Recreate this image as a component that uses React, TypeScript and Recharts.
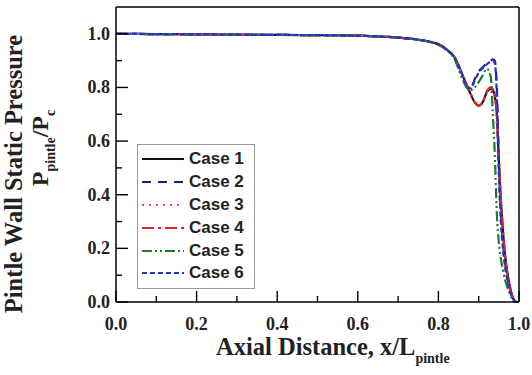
import { LineChart, Line, XAxis, YAxis, Legend, ReferenceLine } from 'recharts';

// axial position x/L_pintle
const xPos = [0, 0.1, 0.2, 0.3, 0.4, 0.5, 0.6, 0.65, 0.7, 0.75, 0.78, 0.8, 0.82, 0.84, 0.86, 0.87, 0.88, 0.89, 0.9, 0.91, 0.92, 0.93, 0.935, 0.94, 0.945, 0.95, 0.955, 0.96, 0.965, 0.97, 0.975, 0.98, 0.985, 0.99, 0.995, 1.0];

const case1 = [1.0, 0.999, 0.998, 0.997, 0.996, 0.995, 0.993, 0.99, 0.986, 0.978, 0.97, 0.961, 0.942, 0.912, 0.845, 0.81, 0.775, 0.745, 0.732, 0.745, 0.782, 0.795, 0.79, 0.768, 0.7, 0.53, 0.38, 0.27, 0.18, 0.12, 0.075, 0.04, 0.015, 0.003, 0.0, 0.0];
const case2 = [1.0, 0.999, 0.998, 0.997, 0.996, 0.995, 0.993, 0.99, 0.986, 0.978, 0.97, 0.961, 0.942, 0.912, 0.845, 0.805, 0.795, 0.83, 0.86, 0.875, 0.89, 0.9, 0.905, 0.9, 0.8, 0.52, 0.33, 0.22, 0.15, 0.1, 0.065, 0.035, 0.015, 0.003, 0.0, 0.0];
const case3 = [1.0, 0.999, 0.998, 0.997, 0.996, 0.995, 0.993, 0.99, 0.986, 0.978, 0.97, 0.961, 0.942, 0.912, 0.845, 0.81, 0.775, 0.745, 0.733, 0.746, 0.783, 0.797, 0.79, 0.76, 0.66, 0.48, 0.34, 0.24, 0.16, 0.1, 0.06, 0.03, 0.01, 0.0, 0.0, 0.0];
const case4 = [1.0, 0.999, 0.998, 0.997, 0.996, 0.995, 0.993, 0.99, 0.986, 0.978, 0.97, 0.961, 0.942, 0.912, 0.845, 0.81, 0.775, 0.745, 0.732, 0.745, 0.785, 0.8, 0.795, 0.77, 0.7, 0.53, 0.38, 0.27, 0.18, 0.12, 0.075, 0.04, 0.015, 0.003, 0.008, 0.02];
const case5 = [1.0, 0.999, 0.998, 0.997, 0.996, 0.995, 0.993, 0.99, 0.986, 0.978, 0.969, 0.959, 0.94, 0.905, 0.83, 0.8, 0.79, 0.8, 0.82, 0.845, 0.87, 0.84, 0.7, 0.55, 0.33, 0.22, 0.16, 0.12, 0.085, 0.06, 0.04, 0.02, 0.007, 0.0, 0.0, 0.0];
const case6 = [1.0, 0.999, 0.998, 0.997, 0.996, 0.995, 0.993, 0.99, 0.986, 0.978, 0.97, 0.961, 0.942, 0.912, 0.845, 0.805, 0.797, 0.825, 0.855, 0.872, 0.886, 0.897, 0.9, 0.89, 0.77, 0.48, 0.3, 0.2, 0.135, 0.09, 0.058, 0.03, 0.012, 0.002, 0.0, 0.0];

const xTicks = [0, 0.1, 0.2, 0.3, 0.4, 0.5, 0.6, 0.7, 0.8, 0.9, 1.0];
const yTicks = [0, 0.1, 0.2, 0.3, 0.4, 0.5, 0.6, 0.7, 0.8, 0.9, 1.0];

const cases = [
  { key: 'c1', name: 'Case 1', values: case1, color: '#111111', dash: undefined },
  { key: 'c2', name: 'Case 2', values: case2, color: '#1c1f8a', dash: '9 7' },
  { key: 'c3', name: 'Case 3', values: case3, color: '#d33fc4', dash: '2 5' },
  { key: 'c4', name: 'Case 4', values: case4, color: '#e3232a', dash: '12 4 3 4' },
  { key: 'c5', name: 'Case 5', values: case5, color: '#1f7a2a', dash: '10 3 2 3 2 3' },
  { key: 'c6', name: 'Case 6', values: case6, color: '#2233c8', dash: '5 3' },
];

const data = xPos.map((x, i) => {
  const row: any = { x };
  cases.forEach((c) => {
    row[c.key] = c.values[i];
  });
  return row;
});

const serif = '"Liberation Serif", "Times New Roman", serif';
const sans = '"Liberation Sans", Arial, sans-serif';

const isMajor = (v: number) => Math.round(v * 10) % 2 === 0;

// ticks point inward, labels only every 0.2
const XTick = (props: any) => {
  const x = Number(props.x);
  const y = Number(props.y);
  const major = isMajor(props.payload.value);
  return (
    <g>
      <path d={`M${x},${y}V${y - (major ? 11 : 6)}`} stroke="#000" strokeWidth={1.4} fill="none" />
      {major && (
        <text x={x} y={y + 28} textAnchor="middle" fontFamily={serif} fontWeight="bold" fontSize={18} fill="#222" stroke="none">
          {props.payload.value.toFixed(1)}
        </text>
      )}
    </g>
  );
};

const YTick = (props: any) => {
  const x = Number(props.x);
  const y = Number(props.y);
  const major = isMajor(props.payload.value);
  return (
    <g>
      <path d={`M${x},${y}H${x + (major ? 12 : 6)}`} stroke="#000" strokeWidth={1.4} fill="none" />
      {major && (
        <text x={x - 6} y={y + 6} textAnchor="end" fontFamily={serif} fontWeight="bold" fontSize={18} fill="#222" stroke="none">
          {props.payload.value.toFixed(1)}
        </text>
      )}
    </g>
  );
};

const renderLegend = () => (
  <div style={{ border: '1px solid #999', background: '#fff', padding: '3px 0 3px 3px', width: 113 }}>
    {cases.map((c) => (
      <div key={c.key} style={{ display: 'flex', alignItems: 'center', height: 22.8 }}>
        <svg width={44} height={10}>
          <line x1={1} x2={43} y1={5} y2={5} stroke={c.color} strokeWidth={2.2} strokeDasharray={c.dash} />
        </svg>
        <span style={{ fontFamily: sans, fontWeight: 'bold', fontSize: 17, color: '#222', marginLeft: 4 }}>{c.name}</span>
      </div>
    ))}
  </div>
);

const App = () => {
  return (
    <div style={{ position: 'absolute', left: 0, top: 0 }}>
      <LineChart width={532} height={375} data={data} margin={{ top: 7, right: 13, left: 0, bottom: 0 }}>
        <XAxis
          dataKey="x"
          type="number"
          domain={[0, 1]}
          ticks={xTicks}
          tickLine={false}
          tickSize={0}
          tickMargin={0}
          tick={<XTick />}
          height={73}
          axisLine={{ stroke: '#000', strokeWidth: 1.5 }}
          label={{
            content: () => (
              <text x={216} y={355} fontFamily={serif} fontWeight="bold" fontSize={24.5} fill="#222">
                Axial Distance, x/L
                <tspan fontSize={14} dy={8}>pintle</tspan>
              </text>
            ),
          }}
        />
        <YAxis
          type="number"
          domain={[0, 1.1]}
          ticks={yTicks}
          tickLine={false}
          tickSize={0}
          tickMargin={0}
          tick={<YTick />}
          width={116}
          axisLine={{ stroke: '#000', strokeWidth: 1.5 }}
          label={{
            content: () => (
              <g>
                <text
                  x={0}
                  y={0}
                  transform="translate(22 174) rotate(-90)"
                  textAnchor="middle"
                  fontFamily={serif}
                  fontWeight="bold"
                  fontSize={24.5}
                  fill="#222"
                >
                  Pintle Wall Static Pressure
                </text>
                <text
                  x={0}
                  y={0}
                  transform="translate(48 148) rotate(-90)"
                  textAnchor="middle"
                  fontFamily={serif}
                  fontWeight="bold"
                  fontSize={24}
                  fill="#222"
                >
                  P<tspan fontSize={14} dy={7}>pintle</tspan>
                  <tspan dy={-7}>/P</tspan>
                  <tspan fontSize={14} dy={7}>c</tspan>
                </text>
              </g>
            ),
          }}
        />
        <ReferenceLine y={1.1} stroke="#000" strokeWidth={1.5} />
        <ReferenceLine x={1} stroke="#000" strokeWidth={1.5} />
        {cases.map((c) => (
          <Line
            key={c.key}
            dataKey={c.key}
            name={c.name}
            type="monotone"
            stroke={c.color}
            strokeWidth={2.2}
            strokeDasharray={c.dash}
            dot={false}
            isAnimationActive={false}
          />
        ))}
        <Legend
          layout="vertical"
          align="center"
          verticalAlign="middle"
          content={renderLegend}
          wrapperStyle={{ position: 'absolute', left: 137, top: 144, width: 117, height: 'auto' }}
        />
      </LineChart>
    </div>
  );
};

export default App;
